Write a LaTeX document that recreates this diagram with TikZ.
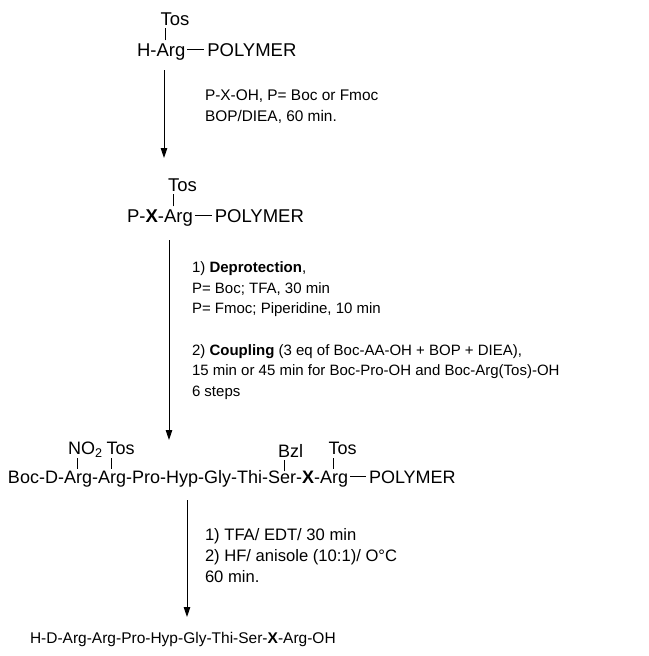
\documentclass[tikz,border=0pt]{standalone}
\usepackage{fontspec}
\setmainfont{Liberation Sans}
\usetikzlibrary{arrows.meta}
\newcommand\strfont{\fontsize{18.5}{21}\selectfont}
\newcommand\rowfont{\fontsize{18}{21}\selectfont}
\newcommand\prodfont{\fontsize{15.5}{19}\selectfont}
\newcommand\labfont{\fontsize{15}{19}\selectfont}
\newcommand\labAfont{\fontsize{15.4}{19}\selectfont}
\newcommand\labCfont{\fontsize{16.6}{19}\selectfont}
\begin{document}
\begin{tikzpicture}[x=1pt,y=-1pt,
  t/.style={inner sep=0pt, outer sep=0pt, anchor=base west},
  lab/.style={t, font=\labfont},
  labA/.style={t, font=\labAfont},
  labC/.style={t, font=\labCfont},
  bond/.style={line width=0.9pt},
  arr/.style={line width=0.9pt, -{Stealth[length=10pt,width=6.5pt,inset=0pt]}}]
\useasboundingbox (0,0) rectangle (648,656);

% ---- structure 1
\node[t,font=\strfont] (h1) at (137,56) {H-};
\node[t,font=\strfont] (arg1) at (h1.base east) {Arg};
\node[t,font=\strfont] (poly1) at ([xshift=22pt]arg1.base east) {POLYMER};
\draw[bond] ([shift={(2,-6.6)}]arg1.base east) -- ([shift={(-3,-6.6)}]poly1.base west);
\coordinate (b1a) at ([shift={(9,-3)}]arg1.north west);
\coordinate (b1b) at ([shift={(9,-15)}]arg1.north west);
\draw[bond] (b1a) -- (b1b);
\node[t,font=\strfont] (tos1) at ([shift={(-5,-3)}]b1b) {Tos};

% arrow 1
\coordinate (a1s) at (164,70);
\coordinate (a1e) at (164,158);
\draw[arr] (a1s) -- (a1e);
\node[labA] (l1a) at (205,100) {P-X-OH, P= Boc or Fmoc};
\node[labA] (l1b) at (205,121) {BOP/DIEA, 60 min.};

% ---- structure 2
\node[t,font=\strfont] (p2) at (127,222) {P-\textbf{X}-};
\node[t,font=\strfont] (arg2) at (p2.base east) {Arg};
\node[t,font=\strfont] (poly2) at ([xshift=22pt]arg2.base east) {POLYMER};
\draw[bond] ([shift={(2,-6.6)}]arg2.base east) -- ([shift={(-3,-6.6)}]poly2.base west);
\coordinate (b2a) at ([shift={(9,-3)}]arg2.north west);
\coordinate (b2b) at ([shift={(9,-15)}]arg2.north west);
\draw[bond] (b2a) -- (b2b);
\node[t,font=\strfont] (tos2) at ([shift={(-5,-3)}]b2b) {Tos};

% arrow 2
\coordinate (a2s) at (169,240);
\coordinate (a2e) at (169,440);
\draw[arr] (a2s) -- (a2e);
\node[lab] (l2a) at (192,272) {1) \textbf{Deprotection},};
\node[lab] (l2b) at (192,293) {P= Boc; TFA, 30 min};
\node[lab] (l2c) at (192,313) {P= Fmoc; Piperidine, 10 min};
\node[lab] (l2d) at (192,355) {2) \textbf{Coupling} (3 eq of Boc-AA-OH + BOP + DIEA),};
\node[lab] (l2e) at (192,375) {15 min or 45 min for Boc-Pro-OH and Boc-Arg(Tos)-OH};
\node[lab] (l2f) at (192,396) {6 steps};

% ---- structure 3
\node[t,font=\rowfont] (r0) at (8,483) {Boc-D-};
\node[t,font=\rowfont] (r1) at (r0.base east) {Arg};
\node[t,font=\rowfont] (r2) at (r1.base east) {-};
\node[t,font=\rowfont] (r3) at (r2.base east) {Arg};
\node[t,font=\rowfont] (r4) at (r3.base east) {-Pro-Hyp-Gly-Thi-S};
\node[t,font=\rowfont] (r5) at (r4.base east) {e};
\node[t,font=\rowfont] (r6) at (r5.base east) {r-\textbf{X}-};
\node[t,font=\rowfont] (r7) at (r6.base east) {Arg};
\node[t,font=\rowfont] (r8) at ([xshift=21pt]r7.base east) {POLYMER};
\draw[bond] ([shift={(2,-6.5)}]r7.base east) -- ([shift={(-3,-6.5)}]r8.base west);
% bars
\coordinate (c1a) at ([shift={(13,-2)}]r1.north west);
\coordinate (c1b) at ([shift={(13,-13)}]r1.north west);
\coordinate (c3a) at ([shift={(13,-2)}]r3.north west);
\coordinate (c3b) at ([shift={(13,-13)}]r3.north west);
\coordinate (c5a) at ([shift={(4,-2)}]r5.north west);
\coordinate (c5b) at ([shift={(4,-13)}]r5.north west);
\coordinate (c7a) at ([shift={(13,-2)}]r7.north west);
\coordinate (c7b) at ([shift={(13,-13)}]r7.north west);
\draw[bond] (c1a) -- (c1b);
\draw[bond] (c3a) -- (c3b);
\draw[bond] (c5a) -- (c5b);
\draw[bond] (c7a) -- (c7b);
\node[t,font=\rowfont] (no2) at ([shift={(-9,-3)}]c1b) {NO\textsubscript{2}};
\node[t,font=\rowfont] (tos3) at ([shift={(-4.5,-3)}]c3b) {Tos};
\node[t,font=\rowfont] (bzl) at ([shift={(-6,-3)}]c5b) {Bzl};
\node[t,font=\rowfont] (tos4) at ([shift={(-4.5,-3)}]c7b) {Tos};

% arrow 3
\coordinate (a3s) at (187,500);
\coordinate (a3e) at (187,617);
\draw[arr] (a3s) -- (a3e);
\node[labC] (l3a) at (205,540) {1) TFA/ EDT/ 30 min};
\node[labC] (l3b) at (205,561) {2) HF/ anisole (10:1)/ O°C};
\node[labC] (l3c) at (205,582) {60 min.};

% ---- final product
\node[t,font=\prodfont] (fin) at (30,643) {H-D-Arg-Arg-Pro-Hyp-Gly-Thi-Ser-\textbf{X}-Arg-OH};
\end{tikzpicture}
\end{document}
